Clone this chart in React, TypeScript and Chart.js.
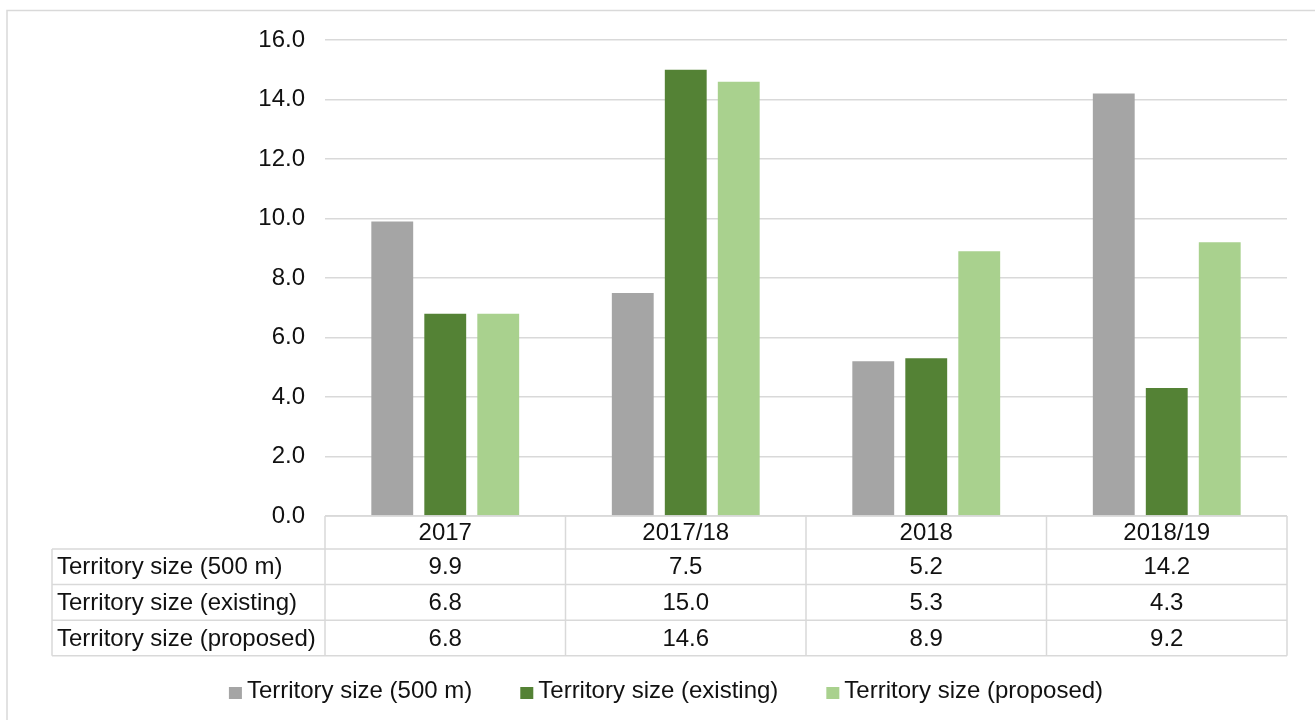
import React, { useEffect, useRef } from 'react';
import { Chart, registerables } from 'chart.js';

Chart.register(...registerables);

const categories = ['2017', '2017/18', '2018', '2018/19'];
const seriesNames = ['Territory size (500 m)', 'Territory size (existing)', 'Territory size (proposed)'];
const size500m = [9.9, 7.5, 5.2, 14.2];
const sizeExisting = [6.8, 15.0, 5.3, 4.3];
const sizeProposed = [6.8, 14.6, 8.9, 9.2];
const seriesColors = ['#a5a5a5', '#548235', '#a9d18e'];
const yMin = 0;
const yMax = 16;
const yStep = 2;

const FONT_FAMILY = "'Liberation Sans', Arial, sans-serif";
const FONT_SIZE = 24;
const TEXT_COLOR = '#111111';
const LINE_COLOR = '#d9d9d9';

const allSeries = [size500m, sizeExisting, sizeProposed];

const tablePlugin = {
  id: 'dataTableAndLegend',
  beforeDraw(chart: any) {
    const ctx = chart.ctx;
    ctx.save();
    ctx.fillStyle = '#ffffff';
    ctx.fillRect(0, 0, chart.width, chart.height);
    ctx.strokeStyle = LINE_COLOR;
    ctx.lineWidth = 1.5;
    ctx.strokeRect(7, 10.5, chart.width + 50, chart.height + 50);
    ctx.restore();
  },
  afterDraw(chart: any) {
    const ctx = chart.ctx;
    const { left, right, bottom } = chart.chartArea;
    const xs = chart.scales.x;
    const n = categories.length;
    const colW = (right - left) / n;
    const headerH = 33;
    const rowH = 35.6;
    const labelLeft = 52;
    const headerBottom = bottom + headerH;
    const tableBottom = headerBottom + rowH * allSeries.length;

    ctx.save();
    ctx.strokeStyle = LINE_COLOR;
    ctx.lineWidth = 1.5;
    const line = (x1: number, y1: number, x2: number, y2: number) => {
      ctx.beginPath();
      ctx.moveTo(x1, y1);
      ctx.lineTo(x2, y2);
      ctx.stroke();
    };
    line(left, bottom, right, bottom);
    for (let r = 0; r <= allSeries.length; r++) {
      const y = headerBottom + r * rowH;
      line(labelLeft, y, right, y);
    }
    for (let i = 0; i <= n; i++) {
      const cx = i < n ? xs.getPixelForValue(i) - colW / 2 : xs.getPixelForValue(n - 1) + colW / 2;
      line(cx, bottom, cx, tableBottom);
    }
    line(labelLeft, headerBottom, labelLeft, tableBottom);

    ctx.fillStyle = TEXT_COLOR;
    ctx.font = `${FONT_SIZE}px ${FONT_FAMILY}`;
    ctx.textBaseline = 'middle';
    ctx.textAlign = 'center';
    categories.forEach((c, i) => {
      ctx.fillText(c, xs.getPixelForValue(i), bottom + headerH / 2 + 1);
    });
    allSeries.forEach((vals, r) => {
      const cy = headerBottom + r * rowH + rowH / 2 + 1;
      ctx.textAlign = 'left';
      ctx.fillText(seriesNames[r], labelLeft + 5, cy);
      ctx.textAlign = 'center';
      vals.forEach((v, i) => {
        ctx.fillText(v.toFixed(1), xs.getPixelForValue(i), cy);
      });
    });

    // legend
    const boxW = 13;
    const boxH = 12;
    const textGap = 5;
    const itemGap = 48;
    const widths = seriesNames.map((s) => boxW + textGap + ctx.measureText(s).width);
    const total = widths.reduce((a, b) => a + b, 0) + itemGap * (seriesNames.length - 1);
    const legendCenter = 666;
    const ly = 691;
    let x = legendCenter - total / 2;
    ctx.textAlign = 'left';
    seriesNames.forEach((s, i) => {
      ctx.fillStyle = seriesColors[i];
      ctx.fillRect(x, ly - 4, boxW, boxH);
      ctx.fillStyle = TEXT_COLOR;
      ctx.fillText(s, x + boxW + textGap, ly);
      x += widths[i] + itemGap;
    });
    ctx.restore();
  },
};

export default function App() {
  const canvasRef = useRef<HTMLCanvasElement | null>(null);

  useEffect(() => {
    if (!canvasRef.current) return;
    const chart = new Chart(canvasRef.current, {
      type: 'bar',
      data: {
        labels: categories,
        datasets: allSeries.map((vals, i) => ({
          label: seriesNames[i],
          data: vals,
          backgroundColor: seriesColors[i],
          borderWidth: 0,
          categoryPercentage: 0.661,
          barPercentage: 0.79,
        })),
      },
      options: {
        animation: false,
        responsive: true,
        maintainAspectRatio: false,
        layout: { padding: { left: 0, top: 40, right: 28, bottom: 204 } },
        plugins: {
          legend: { display: false },
          tooltip: { enabled: false },
        },
        scales: {
          x: {
            display: false,
          },
          y: {
            min: yMin,
            max: yMax,
            border: { display: false },
            grid: { color: LINE_COLOR, lineWidth: 1.5, drawTicks: false },
            ticks: {
              stepSize: yStep,
              padding: 20,
              color: TEXT_COLOR,
              font: { family: FONT_FAMILY, size: FONT_SIZE },
              callback: (v: any) => Number(v).toFixed(1),
            },
            afterFit: (scale: any) => {
              scale.width = 325;
            },
          },
        },
      },
      plugins: [tablePlugin],
    });
    return () => chart.destroy();
  }, []);

  return (
    <div style={{ position: 'fixed', left: 0, top: 0, width: 1315, height: 720, background: '#fff' }}>
      <canvas ref={canvasRef} />
    </div>
  );
}
